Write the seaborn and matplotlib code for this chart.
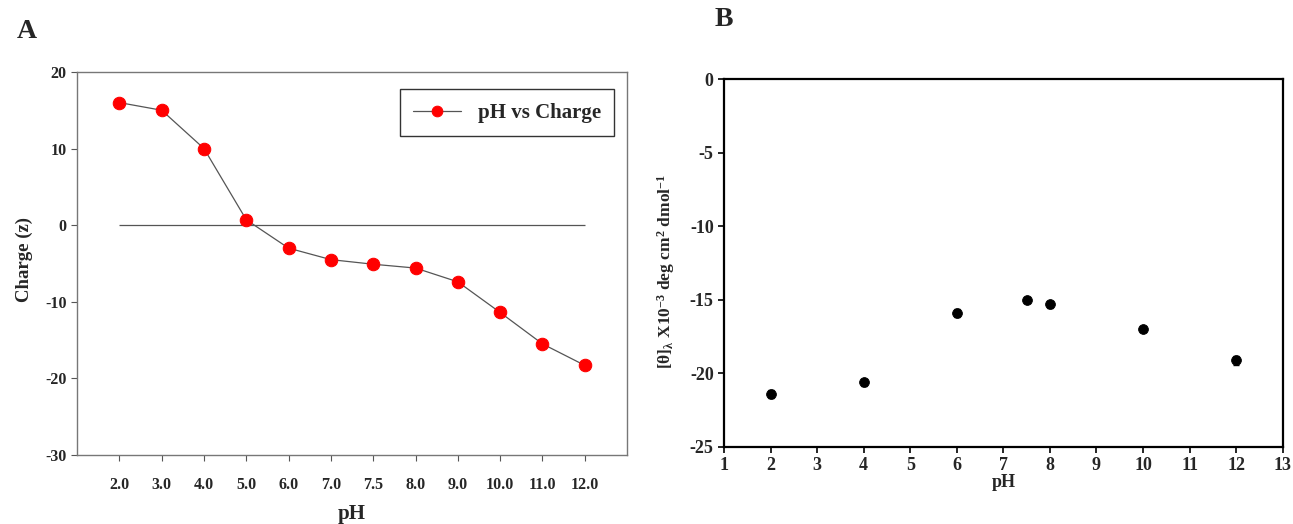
import numpy as np
import pandas as pd
import matplotlib
matplotlib.use("Agg")
import matplotlib.pyplot as plt
import seaborn as sns

# Panel A data
ph_labels = ["2.0", "3.0", "4.0", "5.0", "6.0", "7.0", "7.5", "8.0", "9.0", "10.0", "11.0", "12.0"]
charge = [16.0, 15.0, 10.0, 0.7, -3.0, -4.5, -5.1, -5.6, -7.4, -11.4, -15.5, -18.3]

# Panel B data
ph_b = [2, 4, 6, 7.5, 8, 10, 12]
theta = [-21.4, -20.6, -15.9, -15.0, -15.3, -17.0, -19.1]
theta_err = [0.3, 0.25, 0.25, 0.2, 0.25, 0.2, 0.3]

sns.set_style("ticks")
plt.rcParams['font.family'] = ['Liberation Serif', 'DejaVu Serif']
plt.rcParams['font.weight'] = 'bold'
plt.rcParams['axes.unicode_minus'] = False
plt.rcParams['mathtext.default'] = 'regular'

fig = plt.figure(figsize=(12.93, 5.24), dpi=100)

# ---- Panel A
axA = fig.add_axes([0.0596, 0.1317, 0.4254, 0.731])
dfA = pd.DataFrame({"pos": np.arange(len(ph_labels)), "charge": charge})
sns.lineplot(data=dfA, x="pos", y="charge", ax=axA, color="#555555", lw=0.9,
             marker="o", markersize=9, markerfacecolor="red", markeredgecolor="red",
             label="pH vs Charge")
axA.hlines(0, dfA["pos"].min(), dfA["pos"].max(), color="#555555", lw=0.9, zorder=1)
axA.set_xlim(-1, len(ph_labels))
axA.set_ylim(-30, 20)
axA.set_xticks(dfA["pos"])
axA.set_xticklabels(ph_labels)
axA.set_yticks([-30, -20, -10, 0, 10, 20])
axA.tick_params(axis="both", labelsize=11.5, length=4, width=0.8, color="#555555")
axA.tick_params(axis="x", pad=12)
for lab in axA.get_xticklabels() + axA.get_yticklabels():
    lab.set_fontweight("bold")
for s in axA.spines.values():
    s.set_color("#777777")
    s.set_linewidth(1.0)
axA.set_xlabel("pH", fontsize=15, fontweight="bold", labelpad=8)
axA.set_ylabel("Charge (z)", fontsize=13.5, fontweight="bold")
axA.yaxis.set_label_coords(-0.08, 0.51)
leg = axA.legend(loc="upper right", prop={"weight": "bold", "size": 15},
                 frameon=True, fancybox=False, borderpad=0.65, handlelength=2.3,
                 handletextpad=0.8, markerscale=0.85,
                 bbox_to_anchor=(0.996, 0.982))
leg.get_frame().set_edgecolor("#333333")
leg.get_frame().set_linewidth(1.0)
leg.get_frame().set_alpha(1)
fig.text(0.013, 0.94, "A", fontsize=20, fontweight="bold", ha="left", va="center")

# ---- Panel B
axB = fig.add_axes([0.560, 0.147, 0.432, 0.702])
dfB = pd.DataFrame({"ph": ph_b, "theta": theta})
axB.errorbar(ph_b, theta, yerr=theta_err, fmt="none", ecolor="black", elinewidth=1.0, capsize=2)
sns.scatterplot(data=dfB, x="ph", y="theta", ax=axB, color="black", s=50,
                marker="o", edgecolor="black", zorder=3)
axB.set_xlim(1, 13)
axB.set_ylim(-25, 0)
axB.set_xticks(range(1, 14))
axB.set_yticks([-25, -20, -15, -10, -5, 0])
axB.tick_params(axis="both", labelsize=13, length=4, width=1.2, color="black")
axB.tick_params(axis="x", pad=3)
for lab in axB.get_xticklabels() + axB.get_yticklabels():
    lab.set_fontweight("bold")
for s in axB.spines.values():
    s.set_color("black")
    s.set_linewidth(1.6)
axB.set_xlabel("pH", fontsize=13, fontweight="bold", labelpad=0)
axB.set_ylabel(r"[θ]$_{λ}$ X10$^{-3}$ deg cm$^{2}$ dmol$^{-1}$", fontsize=12.5,
               fontweight="bold")
axB.yaxis.set_label_coords(-0.085, 0.478)
fig.text(0.553, 0.963, "B", fontsize=20, fontweight="bold", ha="left", va="center")

fig.savefig("out.png", dpi=100)
